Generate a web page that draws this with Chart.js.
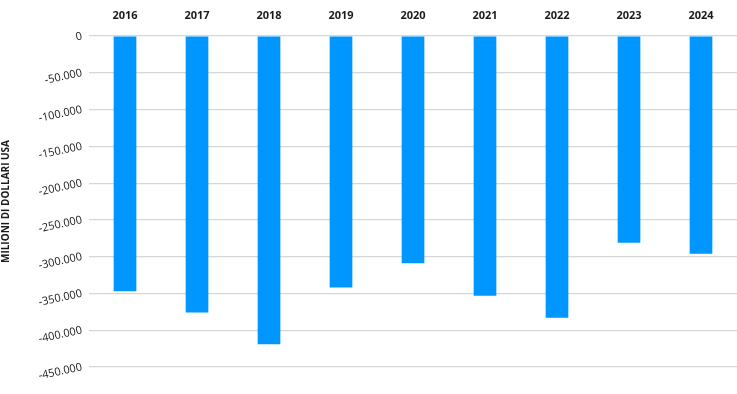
<!DOCTYPE html>
<html>
<head>
<meta charset="utf-8">
<script src="https://cdn.jsdelivr.net/npm/chart.js@4/dist/chart.umd.min.js"></script>
<style>
    html, body { margin: 0; padding: 0; background: #fff; }
    #wrap { width: 737px; height: 394px; position: relative; }
</style>
</head>
<body>
<div id="wrap"><canvas id="chart"></canvas></div>
<script>
const YEARS = ['2016', '2017', '2018', '2019', '2020', '2021', '2022', '2023', '2024'];
const BALANCE = [-347000, -376000, -419000, -342000, -309000, -353000, -383000, -281000, -296000];
const Y_MIN = -450000;
const Y_MAX = 0;
const Y_STEP = 50000;
const Y_TITLE = 'MILIONI DI DOLLARI USA';

const BAR_COLOR = '#0096ff';
const GRID_COLOR = '#d6d6d6';
const TEXT_COLOR = '#1a1a1a';

function formatThousands(value) {
    const sign = value < 0 ? '-' : '';
    return sign + Math.abs(value).toString().replace(/\B(?=(\d{3})+(?!\d))/g, '.');
}

new Chart(document.getElementById('chart'), {
    type: 'bar',
    data: {
        labels: YEARS,
        datasets: [{
            data: BALANCE,
            backgroundColor: BAR_COLOR,
            borderWidth: 0,
            barPercentage: 0.63,
            categoryPercentage: 0.5,
        }],
    },
    options: {
        responsive: true,
        maintainAspectRatio: false,
        animation: false,
        layout: { padding: { left: 0, right: 0, top: 0, bottom: 27 } },
        plugins: {
            legend: { display: false },
            tooltip: { enabled: false },
        },
        scales: {
            x: {
                position: 'top',
                grid: { display: false },
                border: { display: false },
                ticks: {
                    color: TEXT_COLOR,
                    font: { family: 'Open Sans', size: 11, weight: 'bold' },
                    padding: 6,
                    maxRotation: 0,
                },
                afterFit(scale) { scale.height = 36; },
            },
            y: {
                min: Y_MIN,
                max: Y_MAX,
                border: { display: false },
                grid: { color: GRID_COLOR, lineWidth: 1.2, drawTicks: false },
                title: {
                    display: true,
                    text: Y_TITLE,
                    color: TEXT_COLOR,
                    font: { family: 'Open Sans', size: 10, weight: 'bold' },
                    padding: 0,
                },
                ticks: {
                    stepSize: Y_STEP,
                    color: TEXT_COLOR,
                    font: { family: 'Open Sans', size: 11 },
                    padding: 7,
                    minRotation: 12,
                    maxRotation: 12,
                    callback(value) { return formatThousands(value); },
                },
                afterFit(scale) { scale.width = 89; },
            },
        },
    },
});
</script>
</body>
</html>
